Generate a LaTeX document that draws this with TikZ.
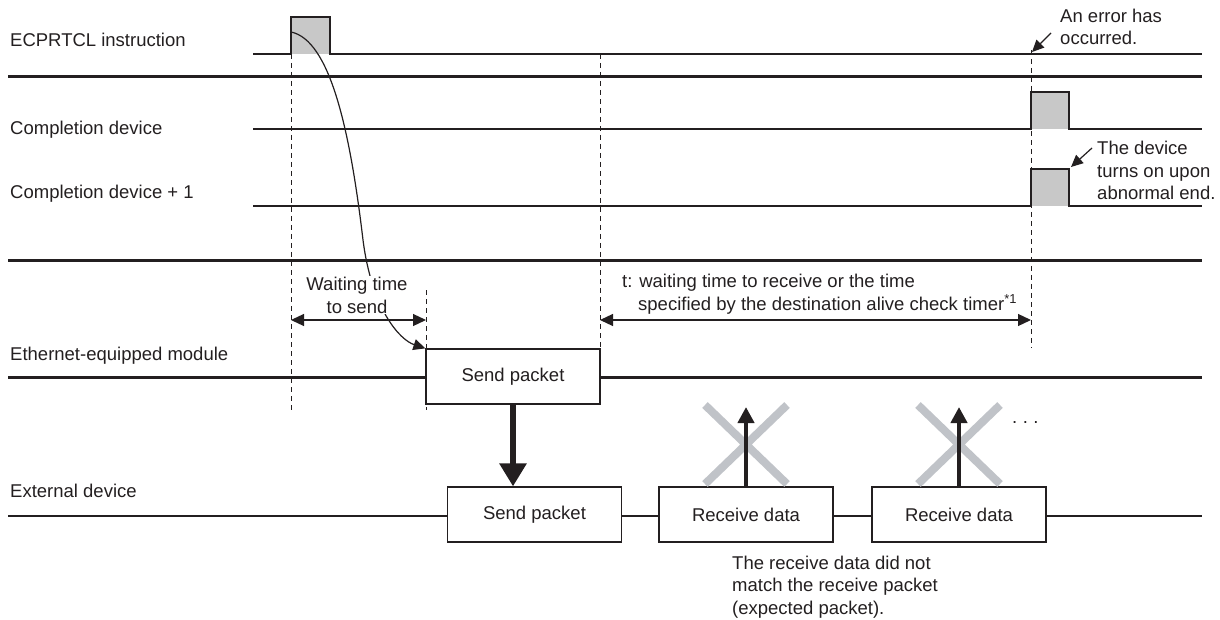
\documentclass[tikz,border=0pt]{standalone}
\usepackage{fontspec}
\setmainfont{Liberation Sans}
\usepackage{xcolor}
\usetikzlibrary{arrows.meta,positioning}
\definecolor{pulsegray}{HTML}{C8C8C8}
\definecolor{crossgray}{HTML}{C0C3C8}
\definecolor{inkgray}{HTML}{231F20}

\begin{document}
\begin{tikzpicture}[
    x=1pt, y=-1pt, color=inkgray,
    font=\fontsize{18.5}{22.5}\selectfont,
    lbl/.style={anchor=base west, inner sep=0pt},
    sig/.style={line width=1.2pt},
    sep/.style={line width=3pt},
    tick/.style={dash pattern=on 5pt off 4pt, line width=0.8pt},
    pkt/.style={draw, line width=1.2pt, fill=white, minimum width=174pt,
                minimum height=55pt, inner sep=0pt},
    dim/.style={{Triangle[length=13pt,width=12pt]}-{Triangle[length=13pt,width=12pt]}, line width=1.2pt},
    note/.style={-{Triangle[length=12pt,width=11pt]}, line width=1.2pt},
    push/.style={-{Triangle[length=23pt,width=26pt]}, line width=6pt},
    back/.style={-{Triangle[length=16pt,width=16pt]}, line width=4pt},
    cross/.style={crossgray, line width=8pt}
  ]
  \useasboundingbox (0,0) rectangle (1220,620);

  \draw[tick] (291,54) -- (291,410);
  \draw[tick] (426,290) -- (426,410);
  \draw[tick] (600,54) -- (600,349);
  \draw[tick] (1031,50) -- (1031,348);

  \draw[sig, fill=pulsegray] (253,54) -- (291,54) -- (291,17) -- (330,17) -- (330,54) -- (1202,54);
  \draw[sig, fill=pulsegray] (253,129) -- (1031,129) -- (1031,92) -- (1069,92) -- (1069,129) -- (1202,129);
  \draw[sig, fill=pulsegray] (253,206) -- (1031,206) -- (1031,169) -- (1069,169) -- (1069,206) -- (1202,206);
  \draw[sep] (8,77) -- (1202,77);
  \draw[sep] (8,261) -- (1202,261);
  \draw[sep] (8,377) -- (1202,377);
  \draw[line width=2.5pt] (8,516) -- (1202,516);

  \node[lbl] (instr)  at (10,47)  {ECPRTCL instruction};
  \node[lbl] (done)   at (10,135) {Completion device};
  \node[lbl] (doneB)  at (10,199) {Completion device + 1};
  \node[lbl] (ethmod) at (10,360) {Ethernet-equipped module};
  \node[lbl] (extdev) at (10,497) {External device};

  \node[pkt] (sendE) at (513,376.5) {Send packet};
  \node[pkt] (sendX) at (534.5,514.5) {Send packet};
  \node[pkt] (recvA) at (746,514.5) {Receive data};
  \node[pkt] (recvB) at (959,514.5) {Receive data};

  \coordinate (go) at (291,32);
  \draw[note] (go) .. controls (330,40) and (350,130) .. (363,240)
                   .. controls (372,310) and (400,340) .. (sendE.north west);
  \node[fill=white, inner sep=1pt, align=center, anchor=base] (wait) at (357,313)
       {Waiting time\\to send};

  \coordinate (w0) at (291,320);
  \coordinate (w1) at (426,320);
  \draw[dim] (w0) -- (w1);
  \coordinate (t0) at (600,320);
  \coordinate (t1) at (1031,320);
  \draw[dim] (t0) -- (t1);
  \node[lbl, align=left] (tlbl) at (622,310)
       {t: waiting time to receive or the time\\
        \hspace*{16pt}specified by the destination alive check timer\textsuperscript{*1}};

  \draw[push] (sendE.south) -- (sendE.south |- sendX.north);

  \draw[cross] (705,405) -- (787,484) (787,405) -- (705,484);
  \draw[cross] (918,405) -- (1000,484) (1000,405) -- (918,484);
  \coordinate (rejA) at (746,407);
  \coordinate (rejB) at (959,407);
  \draw[back] (recvA.north) -- (rejA);
  \draw[back] (recvB.north) -- (rejB);
  \node[lbl] (more) at (1012,423) {.\hspace{5.5pt}.\hspace{5.5pt}.};

  \node[lbl, align=left] (mismatch) at (732,614)
       {The receive data did not\\match the receive packet\\(expected packet).};

  \node[lbl, align=left] (errtxt) at (1060,45) {An error has\\occurred.};
  \coordinate (errfrom) at (1051,33);
  \coordinate (errpt) at (1032,52);
  \draw[note] (errfrom) -- (errpt);

  \node[lbl, align=left] (ontxt) at (1097,200) {The device\\turns on upon\\abnormal end.};
  \coordinate (onfrom) at (1092,148);
  \coordinate (onpt) at (1071,167);
  \draw[note] (onfrom) -- (onpt);
\end{tikzpicture}
\end{document}
